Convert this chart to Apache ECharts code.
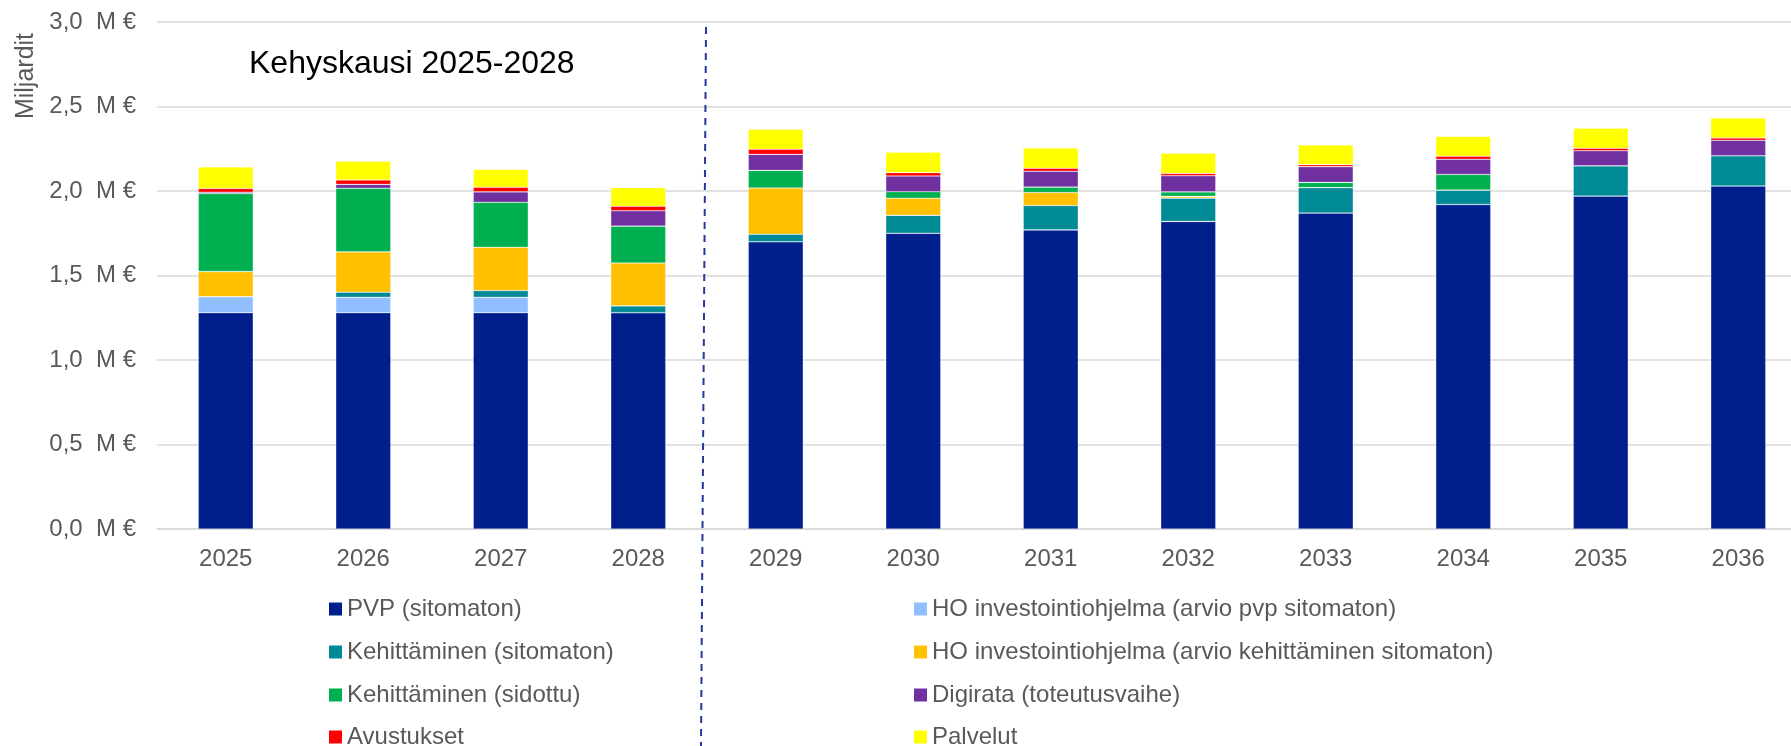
<!DOCTYPE html>
<html>
<head>
<meta charset="utf-8">
<script src="https://cdn.jsdelivr.net/npm/echarts@6.0.0/dist/echarts.min.js"></script>
<style>
  html, body { margin: 0; padding: 0; background: #fff; }
  #chart { width: 1791px; height: 746px; }
</style>
</head>
<body>
<div id="chart"></div>
<script>
// vuodet
const years = ["2025", "2026", "2027", "2028", "2029", "2030", "2031", "2032", "2033", "2034", "2035", "2036"];

// miljardia euroa, luettu kuvasta
const pvp = [1.28, 1.28, 1.28, 1.28, 1.70, 1.75, 1.77, 1.82, 1.87, 1.92, 1.97, 2.03];
const hoPvp = [0.095, 0.091, 0.091, 0, 0, 0, 0, 0, 0, 0, 0, 0];
const kehSitomaton = [0, 0.03, 0.04, 0.04, 0.044, 0.106, 0.144, 0.138, 0.15, 0.085, 0.179, 0.179];
const hoKeh = [0.148, 0.239, 0.256, 0.254, 0.274, 0.101, 0.077, 0.01, 0, 0, 0, 0];
const kehSidottu = [0.462, 0.376, 0.266, 0.218, 0.104, 0.039, 0.032, 0.027, 0.031, 0.093, 0, 0];
const digirata = [0.008, 0.023, 0.062, 0.091, 0.095, 0.093, 0.094, 0.095, 0.093, 0.09, 0.089, 0.091];
const avustukset = [0.022, 0.026, 0.027, 0.027, 0.03, 0.02, 0.018, 0.014, 0.012, 0.018, 0.015, 0.014];
const palvelut = [0.128, 0.112, 0.106, 0.11, 0.118, 0.12, 0.12, 0.12, 0.116, 0.117, 0.119, 0.118];

const yTicks = [0, 0.5, 1, 1.5, 2, 2.5, 3];

const font = "'Liberation Sans', Arial, sans-serif";
const grey = "#595959";

const seriesDefs = [
  { name: "PVP (sitomaton)", data: pvp, color: "#001E8C" },
  { name: "HO investointiohjelma (arvio pvp sitomaton)", data: hoPvp, color: "#91BEFF" },
  { name: "Kehittäminen (sitomaton)", data: kehSitomaton, color: "#008A96" },
  { name: "HO investointiohjelma (arvio kehittäminen sitomaton)", data: hoKeh, color: "#FFC000" },
  { name: "Kehittäminen (sidottu)", data: kehSidottu, color: "#00B050" },
  { name: "Digirata (toteutusvaihe)", data: digirata, color: "#7030A0" },
  { name: "Avustukset", data: avustukset, color: "#FF0000" },
  { name: "Palvelut", data: palvelut, color: "#FFFF00" },
];

let chart = echarts.init(document.getElementById("chart"), null, { renderer: "canvas" });

// selite kahdessa sarakkeessa, rivi kerrallaan
const legendCols = [329, 914];
const legendRows = [596, 639, 682, 724];
const legends = seriesDefs.map((s, i) => ({
  left: legendCols[i % 2],
  top: legendRows[Math.floor(i / 2)],
  data: [s.name],
  icon: "rect",
  itemWidth: 13,
  itemHeight: 13,
  padding: 0,
  itemStyle: { borderWidth: 0 },
  textStyle: { fontFamily: font, fontSize: 24, color: grey, lineHeight: 26 },
}));

let option = {
  animation: false,
  title: {
    text: "Kehyskausi 2025-2028",
    left: 249,
    top: 48,
    padding: 0,
    textStyle: { fontFamily: font, fontSize: 32, fontWeight: "normal", color: "#000" },
  },
  grid: { left: 157, top: 22, width: 1650, height: 507, outerBoundsMode: "none", containLabel: false },
  legend: legends,
  xAxis: {
    type: "category",
    data: years,
    axisTick: { show: false },
    axisLine: { lineStyle: { color: "#d9d9d9", width: 1.5 } },
    axisLabel: { fontFamily: font, fontSize: 24, color: grey, margin: 18 },
  },
  yAxis: {
    type: "value",
    min: yTicks[0],
    max: yTicks[yTicks.length - 1],
    interval: 0.5,
    axisLine: { show: false },
    axisTick: { show: false },
    splitLine: { lineStyle: { color: "#d9d9d9", width: 1.5 } },
    axisLabel: {
      fontFamily: font,
      fontSize: 24,
      color: grey,
      margin: 21,
      formatter: (v) => v.toFixed(1).replace(".", ",") + "  M €",
    },
  },
  series: seriesDefs.map((s) => ({
    name: s.name,
    type: "bar",
    stack: "total",
    barWidth: "40%",
    data: s.data,
    itemStyle: { color: s.color, borderColor: "rgba(255,255,255,0.45)", borderWidth: 0.6 },
    emphasis: { disabled: true },
  })),
};

chart.setOption(option);

// katkoviiva kehyskauden jälkeen
const x28 = chart.convertToPixel({ xAxisIndex: 0 }, "2028");
const x29 = chart.convertToPixel({ xAxisIndex: 0 }, "2029");
const mid = (x28 + x29) / 2;
const yTop = chart.convertToPixel({ yAxisIndex: 0 }, 3) + 5;

chart.setOption({
  graphic: [
    {
      type: "line",
      shape: { x1: mid - 1, y1: yTop, x2: mid - 6, y2: 746 },
      style: { stroke: "#23399B", lineWidth: 2, lineDash: [7, 6] },
      silent: true,
    },
    {
      type: "text",
      x: 26,
      y: 76,
      rotation: Math.PI / 2,
      style: {
        text: "Miljardit",
        fontFamily: font,
        fontSize: 25,
        fill: grey,
        align: "center",
        verticalAlign: "middle",
      },
      silent: true,
    },
  ],
});
</script>
</body>
</html>
